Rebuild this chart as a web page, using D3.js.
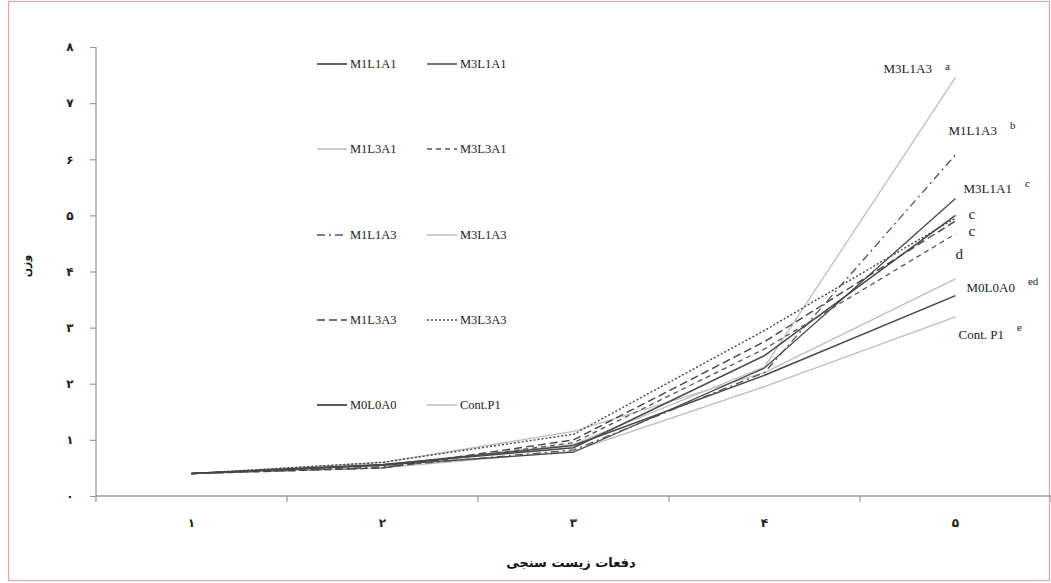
<!DOCTYPE html>
<html><head><meta charset="utf-8">
<script src="https://cdn.jsdelivr.net/npm/d3@7"></script>
<style>body{margin:0;background:#fff}svg{display:block}</style>
</head><body>
<svg id="c" width="1051" height="583"></svg>
<script>
// ---- data ----
const categories = ["1","2","3","4","5"];
const yTicks = [0,1,2,3,4,5,6,7,8];
const seriesNames = ["M1L1A1","M3L1A1","M1L3A1","M3L3A1","M1L1A3","M3L1A3","M1L3A3","M3L3A3","M0L0A0","Cont.P1"];
const M1L1A1 = [0.40, 0.56, 0.86, 2.50, 5.00];
const M3L1A1 = [0.40, 0.55, 0.78, 2.28, 5.30];
const M1L3A1 = [0.40, 0.60, 1.15, 2.20, 3.87];
const M3L3A1 = [0.40, 0.50, 0.95, 2.62, 4.67];
const M1L1A3 = [0.40, 0.52, 0.82, 2.20, 6.08];
const M3L1A3 = [0.40, 0.56, 0.92, 2.30, 7.46];
const M1L3A3 = [0.40, 0.50, 1.00, 2.75, 4.90];
const M3L3A3 = [0.40, 0.60, 1.10, 2.95, 4.95];
const M0L0A0 = [0.40, 0.55, 0.90, 2.15, 3.57];
const ContP1 = [0.40, 0.50, 0.80, 1.95, 3.19];
const seriesValues = [M1L1A1,M3L1A1,M1L3A1,M3L3A1,M1L1A3,M3L1A3,M1L3A3,M3L3A3,M0L0A0,ContP1];
const xTitle = "دفعات زیست سنجی";
const yTitle = "وزن";
const endLabels = [["M3L1A3","a"],["M1L1A3","b"],["M3L1A1","c"],["","c"],["","c"],["","d"],["M0L0A0","ed"],["Cont. P1","e"]];

// ---- styles (not data) ----
const dark = "#474747", light = "#bdbdbd";
const styles = {
  "M1L1A1":{c:dark,w:1.5,d:null},
  "M3L1A1":{c:dark,w:1.3,d:null},
  "M1L3A1":{c:light,w:1.3,d:null},
  "M3L3A1":{c:"#555",w:1.3,d:"5,4"},
  "M1L1A3":{c:"#555",w:1.3,d:"8,4,2,4"},
  "M3L1A3":{c:light,w:1.3,d:null},
  "M1L3A3":{c:"#444",w:1.4,d:"8,4"},
  "M3L3A3":{c:"#444",w:1.4,d:"2,2"},
  "M0L0A0":{c:dark,w:1.6,d:null},
  "Cont.P1":{c:light,w:1.3,d:null}
};

const fa = s => String(s).replace(/[0-9]/g, d => "۰۱۲۳۴۵۶۷۸۹"[+d]);
const svg = d3.select("#c");
svg.append("rect").attr("x",8.5).attr("y",1.5).attr("width",1041).attr("height",579)
  .attr("fill","none").attr("stroke","#e9a3a3").attr("stroke-width",1.2);

const x = d3.scaleBand().domain(categories).range([96,1051]);
const xp = c => x(c) + x.bandwidth()/2;
const y = d3.scaleLinear().domain([0,8]).range([496,47]);
const axisColor = "#9a9a9a";

// y axis
const ya = svg.append("g").attr("transform","translate(96,0)")
  .call(d3.axisLeft(y).tickValues(yTicks).tickSize(6).tickPadding(20).tickFormat(fa));
ya.select(".domain").attr("stroke",axisColor).attr("stroke-width",1.3).attr("d","M0,"+y(8)+"V"+y(0));
ya.selectAll(".tick line").attr("stroke",axisColor).attr("stroke-width",1.2);
ya.selectAll(".tick text").attr("font-family","DejaVu Sans").attr("font-weight","bold").attr("font-size",12).attr("fill","#222").attr("text-anchor","middle").attr("x",-26);

// x axis
const xa = svg.append("g").attr("transform","translate(0,496)")
  .call(d3.axisBottom(x).tickSize(0).tickPadding(22).tickFormat(fa));
xa.select(".domain").attr("stroke",axisColor).attr("stroke-width",1.4).attr("d","M96,0H1051");
xa.selectAll(".tick text").attr("font-family","DejaVu Sans").attr("font-weight","bold").attr("font-size",12).attr("fill","#222");
const bounds = categories.map(c => x(c)).concat([x(categories[categories.length-1]) + x.bandwidth()]);
xa.selectAll(".bt").data(bounds).join("line").attr("class","bt")
  .attr("x1",d=>d).attr("x2",d=>d).attr("y1",0).attr("y2",6).attr("stroke",axisColor).attr("stroke-width",1.2);

// titles
svg.append("text").attr("x",571).attr("y",567).attr("text-anchor","middle")
  .attr("font-family","DejaVu Sans").attr("font-weight","bold").attr("font-size",13).attr("fill","#111").text(xTitle);
svg.append("text").attr("transform","translate(30,266) rotate(-90)").attr("text-anchor","middle")
  .attr("font-family","DejaVu Sans").attr("font-weight","bold").attr("font-size",11).attr("fill","#111").text(yTitle);

// lines
const line = d3.line().x((d,i)=>xp(categories[i])).y(d=>y(d));
const order = [2,5,9,8,0,1,3,4,6,7];
order.forEach(i => {
  const s = styles[seriesNames[i]];
  svg.append("path").attr("d",line(seriesValues[i])).attr("fill","none")
    .attr("stroke",s.c).attr("stroke-width",s.w).attr("stroke-dasharray",s.d);
});

// legend
const lg = svg.append("g");
seriesNames.forEach((n,i) => {
  const col = i % 2, row = Math.floor(i/2);
  const lx = col ? 427 : 317, ly = [64,149,235,320,405][row];
  const s = styles[n];
  lg.append("line").attr("x1",lx).attr("x2",lx+30).attr("y1",ly).attr("y2",ly)
    .attr("stroke",s.c).attr("stroke-width",s.w+0.2).attr("stroke-dasharray",s.d);
  lg.append("text").attr("x",lx+33).attr("y",ly+4).attr("font-family","Liberation Serif, serif")
    .attr("font-size",12.5).attr("fill","#222").text(n);
});

// end labels
const endY = [M3L1A3[4], M1L1A3[4], M3L1A1[4], M1L1A1[4], M3L3A1[4], M1L3A1[4], M0L0A0[4], ContP1[4]];
const lpos = [[-72,-4,-7],[-7,-20,-26],[8,-6,-12],[13,4,4],[13,2,2],[0,-20,-20],[11,-4,-11],[3,22,14]];
endLabels.forEach((e,i) => {
  const bx = xp("5"), by = y(endY[i]);
  const p = lpos[i];
  if (e[0]) {
    const t = svg.append("text").attr("x",bx+p[0]).attr("y",by+p[1]).attr("font-family","Liberation Serif, serif")
      .attr("font-size",13).attr("fill","#222").text(e[0]);
    const w = t.node().getComputedTextLength();
    svg.append("text").attr("x",bx+p[0]+w+13).attr("y",by+p[2]).attr("font-family","Liberation Serif, serif")
      .attr("font-size",11).attr("fill","#222").text(e[1]);
  } else {
    svg.append("text").attr("x",bx+p[0]).attr("y",by+p[1]).attr("font-family","Liberation Serif, serif")
      .attr("font-size",15).attr("fill","#222").text(e[1]);
  }
});
</script>
</body></html>
